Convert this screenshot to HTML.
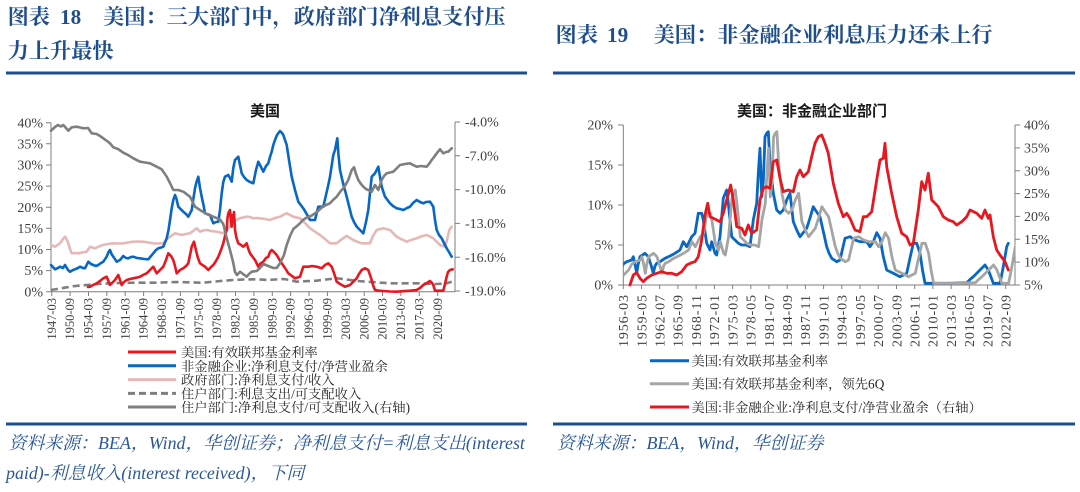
<!DOCTYPE html>
<html><head><meta charset="utf-8">
<style>
html,body{margin:0;padding:0;background:#fff;}
svg{display:block;}
.ttl{font-family:"Liberation Serif","Noto Serif CJK SC",serif;font-weight:bold;fill:#1f4e8c;font-size:21.2px;}
.ax{font-family:"Liberation Serif",serif;font-size:14px;fill:#404040;}
.xl{font-family:"Liberation Serif",serif;fill:#404040;}
.lg{font-family:"Liberation Serif","Noto Serif CJK SC",serif;font-size:13.3px;fill:#262626;}
.ct{font-family:"Liberation Sans","Noto Sans CJK SC",sans-serif;font-weight:bold;font-size:15px;fill:#1a1a1a;}
.src{font-family:"Liberation Serif","Noto Serif CJK SC",serif;font-style:italic;font-size:17.9px;fill:#2b579a;}
</style></head><body>
<svg width="1080" height="492" viewBox="0 0 1080 492" xmlns="http://www.w3.org/2000/svg">
<defs>
<clipPath id="rc"><rect x="623.3" y="110" width="392" height="180"/></clipPath>
<path id="rblue" fill="none" d="M614,276 L617,273 620,270 623.3,264 626.7,261.7 631.7,260 633.3,256.7 635,264 636.7,273.3 638,265 640,256.7 645,253.3 648.3,256.7 651,265 653.3,273.3 655,266 656.7,263.3 660,261.7 665,258.3 670,256 675,253.3 680,250 683.3,241.7 686.7,246.7 691.7,236.7 695,233.3 698.3,213.3 701.7,213.3 703.3,220 706.7,243.3 710,250 711.7,241.7 715,253.3 716.7,255 720,236.7 723.3,198.3 726.7,190 728.3,203.3 731.7,236.7 735,240 738.3,243.3 741.7,245 746,245 750,246.7 753.3,220 756.7,203.3 758.5,170 760,148.3 761.7,196.7 763.3,181.7 765,136.7 766.7,133.3 768.3,131.7 770,163.3 773.3,193.3 776.7,210 780,213.3 783.3,210 786.7,200 790,193.3 793.3,221.7 796.7,230 800,236.7 803,233 806.7,228.3 810,218 813.3,206.7 816,211 820,216.7 823,230 826.7,246.7 829,253 831.7,258.3 836.7,261.7 840,260 845,238.3 850,236.7 855,240 860,241.7 866.7,241.7 870,246.7 873.3,241.7 876.7,232.7 880,238.3 883.3,256.7 886.7,270 893.3,273.3 900,276.7 906.7,273.3 910,258 913.3,243.3 916.7,243.3 920,253.3 922.5,270 925,283.3 933.3,283.3 950,283.3 966.7,282.7 970,279.5 973.3,276.7 980,270 985,265 988.3,270 991,277 993.3,283.3 1000,283.3 1003.3,266.7 1006.7,246.7 1008.3,243.3"/>
</defs>

<!-- Titles -->
<text class="ttl" y="24"><tspan x="7.6">图表</tspan><tspan x="60">18</tspan><tspan x="103">美国：三大部门中，政府部门净利息支付压</tspan></text>
<text class="ttl" x="7.6" y="58">力上升最快</text>
<text class="ttl" y="42"><tspan x="555.5">图表</tspan><tspan x="607">19</tspan><tspan x="653.6">美国：非金融企业利息压力还未上行</tspan></text>

<rect x="6" y="71.5" width="521" height="3" fill="#1f4e8c"/>
<rect x="553" y="71.5" width="522" height="3" fill="#1f4e8c"/>

<!-- LEFT CHART -->
<text class="ct" x="265" y="116" text-anchor="middle">美国</text>
<g stroke="#7f7f7f" stroke-width="1" fill="none">
<line x1="51" y1="122.5" x2="51" y2="292"/>
<line x1="455" y1="122" x2="455" y2="292"/>
<line x1="51" y1="291.7" x2="455" y2="291.7"/>
<path d="M46,122.7H51M46,143.8H51M46,165H51M46,186.1H51M46,207.2H51M46,228.3H51M46,249.5H51M46,270.6H51M46,291.7H51"/>
<path d="M455,122H460M455,155.8H460M455,189.6H460M455,223.4H460M455,257.2H460M455,291H460"/>
<path d="M51.7,292V296M70.1,292V296M88.5,292V296M106.8,292V296M125.2,292V296M143.6,292V296M162,292V296M180.4,292V296M198.7,292V296M217.1,292V296M235.5,292V296M253.9,292V296M272.3,292V296M290.6,292V296M309,292V296M327.4,292V296M345.8,292V296M364.2,292V296M382.5,292V296M400.9,292V296M419.3,292V296M437.7,292V296"/>
</g>
<g class="ax" text-anchor="end">
<text x="43" y="127.3">40%</text><text x="43" y="148.4">35%</text><text x="43" y="169.6">30%</text><text x="43" y="190.7">25%</text><text x="43" y="211.8">20%</text><text x="43" y="232.9">15%</text><text x="43" y="254.1">10%</text><text x="43" y="275.2">5%</text><text x="43" y="296.3">0%</text>
</g>
<g class="ax">
<text x="465" y="126.6">-4.0%</text><text x="465" y="160.4">-7.0%</text><text x="465" y="194.2">-10.0%</text><text x="465" y="228">-13.0%</text><text x="465" y="261.8">-16.0%</text><text x="465" y="295.6">-19.0%</text>
</g>
<g class="xl" font-size="12.5" text-anchor="end">
<text transform="translate(55.8,298) rotate(-90)">1947-03</text>
<text transform="translate(74.2,298) rotate(-90)">1950-09</text>
<text transform="translate(92.6,298) rotate(-90)">1954-03</text>
<text transform="translate(110.9,298) rotate(-90)">1957-09</text>
<text transform="translate(129.3,298) rotate(-90)">1961-03</text>
<text transform="translate(147.7,298) rotate(-90)">1964-09</text>
<text transform="translate(166.1,298) rotate(-90)">1968-03</text>
<text transform="translate(184.5,298) rotate(-90)">1971-09</text>
<text transform="translate(202.8,298) rotate(-90)">1975-03</text>
<text transform="translate(221.2,298) rotate(-90)">1978-09</text>
<text transform="translate(239.6,298) rotate(-90)">1982-03</text>
<text transform="translate(258,298) rotate(-90)">1985-09</text>
<text transform="translate(276.4,298) rotate(-90)">1989-03</text>
<text transform="translate(294.7,298) rotate(-90)">1992-09</text>
<text transform="translate(313.1,298) rotate(-90)">1996-03</text>
<text transform="translate(331.5,298) rotate(-90)">1999-09</text>
<text transform="translate(349.9,298) rotate(-90)">2003-03</text>
<text transform="translate(368.3,298) rotate(-90)">2006-09</text>
<text transform="translate(386.6,298) rotate(-90)">2010-03</text>
<text transform="translate(405,298) rotate(-90)">2013-09</text>
<text transform="translate(423.4,298) rotate(-90)">2017-03</text>
<text transform="translate(441.8,298) rotate(-90)">2020-09</text>
</g>

<g fill="none" stroke-width="2.6" stroke-linejoin="round" stroke-linecap="round">
<!-- pink -->
<polyline stroke="#e6b8b7" points="51,245 55,246.7 60,243.3 63,239 65,236.7 67,240 68.3,243.3 70,249 71.7,253.3 75,253 78.3,253.3 82,252.5 86.7,251.7 90,246.7 95,248.3 100,246 103.3,245 108,244 113.3,243.3 118,243.5 123.3,243.3 128,242.5 133.3,241.7 138,241.5 143.3,241.7 148,242.5 153.3,243.3 158,243.5 163.3,243.3 166,240 170,236.7 175,233.3 178,234 181.7,235 186,234 190,233.3 193,231 196.7,228.3 200,231.7 203,230.5 206.7,230 211,231 216.7,231.7 220,232.5 223.3,233.3 228.3,228.3 231,225 233.3,221.7 236,220 240,218.3 243,217.5 246.7,216.7 250,217 253.3,218.3 256,218 260,218.3 265,219 270,220 275,218 280,216.7 283,215 286.7,213.3 290,215 293.3,216.7 300,218.3 305,223 310,228.3 315,231.7 320,235 325,239 330,243.3 336.7,243.3 342,239 346.7,236 350,238 353.3,240 358,242 361.7,243.3 370,243.3 373,236 376.7,230 383.3,228.3 390,230 393,233 396.7,236.7 401,239 406.7,241.7 411,240 416.7,238.3 421,236.5 426.7,235 430,236.5 433.3,238.3 436,241 440,245 445,246.7 447,240 449.3,230 451.7,226.7"/>
<!-- dashed -->
<polyline stroke="#7f7f7f" stroke-dasharray="7,4" stroke-linecap="butt" points="51,290 60,288.5 66.7,287.3 75,286 86.7,285 98,284 110,283.3 120,283 133.3,282.7 145,282.7 156.7,282.7 166,282.3 176.7,282 188,282.3 200,282.7 207,282.3 213.3,281.7 223,280.8 233.3,280 243,279.5 253.3,279.3 262,279.6 266.7,280 275,279.5 283.3,279 290,280 296.7,281.7 306,281.2 316.7,280.7 326,279.5 336.7,278.3 343,279 350,280 358,281 366.7,281.7 378,282.5 390,283.3 403,283.3 416.7,283.3 426,283.6 436.7,284 446.7,283.3 451.7,281.7"/>
<!-- red -->
<polyline stroke="#e8161f" points="88,287 90,286.7 93,285 96.7,283.3 100,281 103.3,278.3 106.7,276.7 108,280 110,285 112,283 115,280 117,277 118.3,275 120,280 121.7,285 124,282 126.7,280 130,279 133.3,278.3 137,277.5 140,276.7 143,275 146.7,273.3 150,270 153.3,266.7 155,270 156.7,273.3 160,270 163.3,266.7 166,260 168.3,253.3 171,256 173.3,260 175,266 176.7,273.3 180,270 183.3,268.3 186,266 188.3,263.3 190,255 191.7,246.7 194,241.7 196.7,253.3 198,258 200,263.3 205,266.7 208.3,270 211,267 213.3,265 216,261 218.3,256.7 221,250 223.3,243.3 225,236 226.7,230 227.5,218 228.3,213.3 230,210 231,222 231.7,226.7 232.5,215 233.3,220 234,212 235,230 236.5,238 238.3,243.3 241,245 243.3,246.7 246.7,243.3 248,248 250,253.3 252,256 255,260 258.3,266.7 260,264 263.3,261.7 266,258 268.3,256.7 270,252 271.7,250 274,252 276.7,255 279,259 281.7,263.3 285,268 288.3,273.3 292,276 295,278.3 300,276.7 303.3,266.7 308.3,266.7 312,266 316.7,266.7 321.7,268.3 325,265 328.3,263.3 331.7,266.7 334,273 336.7,281.7 340,284 345,286.7 350,285 353,282 356.7,278.3 359,274 361.7,270 365,268.3 368.3,270 370,275 371.7,280 373,285 375,290 379,290.7 383.3,291 390,291.5 396.7,291.7 403,291.2 410,290.7 416.7,290 420,288 423.3,285 427,283 430,281 432,283 433.3,285 435,290.7 440,290.7 443.3,290.7 445,284 446.7,276.7 448,272 450,270 452.7,269.3"/>
<!-- blue -->
<polyline stroke="#0867c4" points="51,265 55,269.3 58,268 60,266.7 63,268 65,265 68,270 70,271.7 73,270 75,269.3 78,268 80,266.7 83,268 85,268.3 88.3,261.7 91,264 93.3,265 96,266 98.3,265 101,263 103.3,261.7 106.7,256.7 108.5,252 110,250 111.5,254 113.3,256.7 116.7,261.7 120,260 123.3,256 126,258 128.3,258.3 131,257 133.3,256.7 137,258 140,258.3 144,259 148.3,259.3 151,256 153.3,253.3 156,250 158.3,248.3 161,247.5 163.3,246.7 166.7,238.3 168.5,230 170,220 171.7,208.3 173.3,200 175,195 176.5,199 178.3,206.7 181,209.5 183.3,211.7 186,214 188.3,216.7 191.7,210 193.5,198 195,188.3 196.5,182 198.3,176.7 200,188 201.7,196.7 203.5,205 205,213.3 210,215 213.3,223.3 216,222 218.3,221.7 220,210 221.7,193.3 223.3,182 225,176.7 228.3,175 230,178 231.7,181.7 233.3,168 235,160 238.3,156.7 240,165 241.7,173.3 244,177 246.7,180 250,182 253.3,183.3 256,170 258.3,161.7 261,167 263.3,171.7 266,166 268.3,163.3 270,157 271.7,151.7 273.3,145 275,140 277,135 280,131 282,133 283.3,135 285,140 286.7,145 289,160 291.7,176.7 295,190 298.3,201.7 300,204 303.3,208.3 306.7,214 310,220 315,220 318.3,206.7 323.3,206.7 326,195 328.3,185 330,176.7 333.3,155 335,150 337.3,138.3 338.5,155 340,170 343,183 346.7,196.7 349,206 351.7,216.7 354,222 356.7,226.7 360,230 363.3,233.3 366,222 368.3,210 370,193 371.7,176.7 375,173.3 378.3,166.7 380,177 381.7,186.7 385,196.7 387.5,200 390,203.3 393,206 396.7,208.3 400,209 403.3,210 407,208 410,206.7 413,203 416.7,200 420,202 423.3,203.3 426,202 430,201.7 433.3,206.7 435,220 436.7,230 439,235 441.7,238.3 444,243 446.7,248.3 449,252 451.7,256.7"/>
<!-- gray solid (right axis) -->
<polyline stroke="#7f7f7f" points="51,130.7 55,127 58,125 61,126.5 63.3,125 66,128 68.3,130.7 71.7,127.3 76.7,126.7 80,127.5 83.3,128.3 88,128 91.7,133.3 96.7,134 100,136 103.3,138.3 107,141 110,143.3 113.3,147.3 118,149 123.3,152.7 128,155 133.3,158.3 140,161.7 145,162.5 150,163.3 156.7,166.7 161.7,169.3 166.7,176.7 170,183 173.3,190 178.3,190 183.3,191.7 190,196.7 195,206.7 200,210 206.7,214 213.3,216.7 220,219.5 223.3,224 226.7,238 230,250 233.3,263 235,272 237,275 240,271.7 243,274 246.7,276.7 249,274 251.7,271.7 256.7,271 260,268 263.3,264 266,265 268.3,266 273.3,268 276.7,268 280,263.3 284,255 286.7,245 290,236 293.3,229 297,226 300,223.3 303,220 306.7,217.5 311,216 315,213.3 318,211 321.7,207.5 326,205 330,203.3 333,200 336.7,196.7 340,192 343.3,188.3 346,184 348.3,180 350,175 351.7,170 354,167.3 356,174 358.3,180 361,184 363.3,186.7 366,189 368.3,190 371.7,191.7 375,185 378.3,190 381.7,180 384,176 386.7,173.3 390,172.5 393.3,171.7 397,168 400,165 405,164 410,163.3 413,165 416.7,166.7 421,166 426.7,166.7 429,164 431.7,160 434,157 436.7,153.3 440,149.3 443.3,153.3 446,152 448.3,151.7 450,150 451.7,148.3"/>
</g>

<!-- Left legend -->
<g stroke-width="3" fill="none">
<line x1="128" y1="352" x2="176" y2="352" stroke="#e8161f"/>
<line x1="128" y1="365.8" x2="176" y2="365.8" stroke="#0867c4"/>
<line x1="128" y1="379.6" x2="176" y2="379.6" stroke="#e6b8b7"/>
<line x1="128" y1="393.4" x2="176" y2="393.4" stroke="#7f7f7f" stroke-dasharray="7,4"/>
<line x1="128" y1="407" x2="176" y2="407" stroke="#7f7f7f"/>
</g>
<g class="lg">
<text x="181" y="357">美国:有效联邦基金利率</text>
<text x="181" y="370.8">非金融企业:净利息支付/净营业盈余</text>
<text x="181" y="384.6">政府部门:净利息支付/收入</text>
<text x="181" y="398.4">住户部门:利息支出/可支配收入</text>
<text x="181" y="412">住户部门:净利息支付/可支配收入(右轴)</text>
</g>

<rect x="6" y="422.5" width="521" height="3" fill="#1f4e8c"/>
<text class="src" x="8.6" y="449">资料来源：BEA，Wind，华创证券；净利息支付=利息支出(interest</text>
<text class="src" x="6" y="479">paid)-利息收入(interest received)，下同</text>

<!-- RIGHT CHART -->
<text class="ct" x="812" y="116" text-anchor="middle">美国：非金融企业部门</text>
<g stroke="#7f7f7f" stroke-width="1" fill="none">
<line x1="623.3" y1="125" x2="623.3" y2="285"/>
<line x1="1015" y1="125" x2="1015" y2="285"/>
<line x1="623.3" y1="285" x2="1015" y2="285"/>
<path d="M618,125H623.3M618,165H623.3M618,205H623.3M618,245H623.3M618,285H623.3"/>
<path d="M1015,125H1020M1015,147.9H1020M1015,170.7H1020M1015,193.6H1020M1015,216.4H1020M1015,239.3H1020M1015,262.1H1020M1015,285H1020"/>
<path d="M623.3,285V289M641.5,285V289M659.7,285V289M677.9,285V289M696.1,285V289M714.4,285V289M732.6,285V289M750.8,285V289M769,285V289M787.2,285V289M805.4,285V289M823.6,285V289M841.8,285V289M860,285V289M878.2,285V289M896.5,285V289M914.7,285V289M932.9,285V289M951.1,285V289M969.3,285V289M987.5,285V289M1005.7,285V289"/>
</g>
<g class="ax" text-anchor="end">
<text x="613" y="129.6">20%</text><text x="613" y="169.6">15%</text><text x="613" y="209.6">10%</text><text x="613" y="249.6">5%</text><text x="613" y="289.6">0%</text>
</g>
<g class="ax">
<text x="1024" y="129.6">40%</text><text x="1024" y="152.5">35%</text><text x="1024" y="175.3">30%</text><text x="1024" y="198.2">25%</text><text x="1024" y="221">20%</text><text x="1024" y="243.9">15%</text><text x="1024" y="266.7">10%</text><text x="1024" y="289.6">5%</text>
</g>
<g class="xl" font-size="14" text-anchor="end">
<text transform="translate(628.1,295) rotate(-90)" textLength="52">1956-03</text>
<text transform="translate(646.3,295) rotate(-90)" textLength="52">1959-05</text>
<text transform="translate(664.5,295) rotate(-90)" textLength="52">1962-07</text>
<text transform="translate(682.7,295) rotate(-90)" textLength="52">1965-09</text>
<text transform="translate(700.9,295) rotate(-90)" textLength="52">1968-11</text>
<text transform="translate(719.2,295) rotate(-90)" textLength="52">1972-01</text>
<text transform="translate(737.4,295) rotate(-90)" textLength="52">1975-03</text>
<text transform="translate(755.6,295) rotate(-90)" textLength="52">1978-05</text>
<text transform="translate(773.8,295) rotate(-90)" textLength="52">1981-07</text>
<text transform="translate(792,295) rotate(-90)" textLength="52">1984-09</text>
<text transform="translate(810.2,295) rotate(-90)" textLength="52">1987-11</text>
<text transform="translate(828.4,295) rotate(-90)" textLength="52">1991-01</text>
<text transform="translate(846.6,295) rotate(-90)" textLength="52">1994-03</text>
<text transform="translate(864.8,295) rotate(-90)" textLength="52">1997-05</text>
<text transform="translate(883,295) rotate(-90)" textLength="52">2000-07</text>
<text transform="translate(901.3,295) rotate(-90)" textLength="52">2003-09</text>
<text transform="translate(919.5,295) rotate(-90)" textLength="52">2006-11</text>
<text transform="translate(937.7,295) rotate(-90)" textLength="52">2010-01</text>
<text transform="translate(955.9,295) rotate(-90)" textLength="52">2013-03</text>
<text transform="translate(974.1,295) rotate(-90)" textLength="52">2016-05</text>
<text transform="translate(992.3,295) rotate(-90)" textLength="52">2019-07</text>
<text transform="translate(1010.5,295) rotate(-90)" textLength="52">2022-09</text>
</g>

<g fill="none" stroke-width="2.8" stroke-linejoin="round" stroke-linecap="round" clip-path="url(#rc)">
<use href="#rblue" stroke="#0867c4"/>
<use href="#rblue" stroke="#a5a5a5" transform="translate(8.6,0)"/>
<polyline stroke="#e8161f" points="630,285 633.3,275 636.7,272.7 640,278.3 643.3,281.7 646.7,278.3 651.7,275 656.7,273.3 661.7,271.7 666.7,273.3 671.7,273.3 676.7,275 681.7,271.7 686.7,265 691.7,262.7 695,261.7 698.3,256.7 701.7,240 705,215 707.7,203.3 710,216.7 713.3,218.3 716.7,220 720,221.7 723.3,213.3 726.7,200 730.7,185 733.3,200 736.7,226.7 741.7,228.3 745,235 748.3,225 751.7,233.3 756.7,230 760,200 763.3,188.3 766.7,186.7 770,188.3 773.3,161.7 776.7,160 780,178.3 783.3,191.7 788.3,190 793.3,191.7 796.7,176.7 800,170 803.3,176.7 808.3,171.7 811.7,156.7 815,143.3 818.3,136.7 821.7,135 825,143.3 828.3,153.3 833.3,183.3 838.3,203.3 843.3,216.7 846.7,213.3 850,218.3 855,230 860,231.7 863.3,216.7 866.7,216.7 871.7,211.7 876.7,180 880,160 883.3,158.3 885,143.3 886.7,166.7 891.7,193.3 896.7,216.7 901.7,233.3 906.7,236.7 910,245 913.3,243.3 918.3,210 921.7,181.7 925,190 928.3,173.3 931.7,200 935,203.3 938.3,206.7 943.3,216.7 948.3,220 953.3,221.7 956.7,225 961.7,221.7 966.7,216.7 970,210 976.7,213.3 981.7,218.3 985,210 988.3,218.3 990,215 993.3,236.7 996.7,250 1000,255 1005,261.7 1008.3,270"/>
</g>

<!-- Right legend -->
<g stroke-width="3" fill="none">
<line x1="650" y1="360.7" x2="689" y2="360.7" stroke="#0867c4"/>
<line x1="650" y1="383.7" x2="689" y2="383.7" stroke="#a5a5a5"/>
<line x1="650" y1="407" x2="689" y2="407" stroke="#e8161f"/>
</g>
<g class="lg">
<text x="691.5" y="365.7">美国:有效联邦基金利率</text>
<text x="691.5" y="388.7">美国:有效联邦基金利率，领先6Q</text>
<text x="691.5" y="412">美国:非金融企业:净利息支付/净营业盈余（右轴）</text>
</g>

<rect x="553" y="422.5" width="522" height="3" fill="#1f4e8c"/>
<text class="src" x="557" y="449">资料来源：BEA，Wind，华创证券</text>
</svg>
</body></html>
